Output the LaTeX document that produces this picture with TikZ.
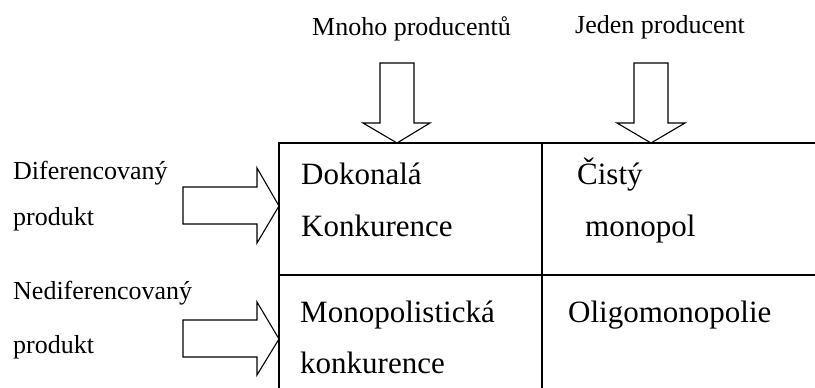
\documentclass[tikz,border=0pt]{standalone}
\usepackage{fontspec}
\setmainfont{Liberation Serif}
\begin{document}
\begin{tikzpicture}[x=1pt,y=-1pt,
  lbl/.style={anchor=base west,inner sep=0pt,font=\fontsize{26}{30}\selectfont},
  cell/.style={anchor=base west,inner sep=0pt,font=\fontsize{31}{36}\selectfont},
  grid/.style={line width=1.4pt,line cap=rect},
  blockarrow/.style={line width=1.1pt,line join=miter,fill=white}]
\useasboundingbox (0,0) rectangle (815,388);
% table
\draw[grid] (279,143) -- (815,143);
\draw[grid] (279,275) -- (815,275);
\draw[grid] (279,143) -- (279,388);
\draw[grid] (542,143) -- (542,388);
% top block arrows
\draw[blockarrow] (380,63) -- (414,63) -- (414,123) -- (430,123) -- (397,143) -- (363,123) -- (380,123) -- cycle;
\draw[blockarrow] (634,63) -- (668,63) -- (668,123) -- (685,123) -- (651,143) -- (617,123) -- (634,123) -- cycle;
% left block arrows
\draw[blockarrow] (183,187) -- (257,187) -- (257,168) -- (279,206) -- (257,243) -- (257,224) -- (183,224) -- cycle;
\draw[blockarrow] (183,320) -- (257,320) -- (257,302) -- (279,339) -- (257,375) -- (257,357) -- (183,357) -- cycle;
% labels
\node[lbl] (mnoho) at (312,35) {Mnoho producentů};
\node[lbl] (jeden) at (575,34) {Jeden producent};
\node[lbl] (dif) at (13,179) {Diferencovaný};
\node[lbl] (dif2) at (13,225) {produkt};
\node[lbl] (nedif) at (13,299) {Nediferencovaný};
\node[lbl] (nedif2) at (13,353) {produkt};
% cells
\node[cell] (dok) at (301,184) {Dokonalá};
\node[cell] (kon) at (301,236) {Konkurence};
\node[cell] (cis) at (577,184) {Čistý};
\node[cell] (mon) at (585,236) {monopol};
\node[cell] (mp) at (300,322) {Monopolistická};
\node[cell] (mp2) at (300,373) {konkurence};
\node[cell] (oli) at (568,322) {Oligomonopolie};
\end{tikzpicture}
\end{document}
